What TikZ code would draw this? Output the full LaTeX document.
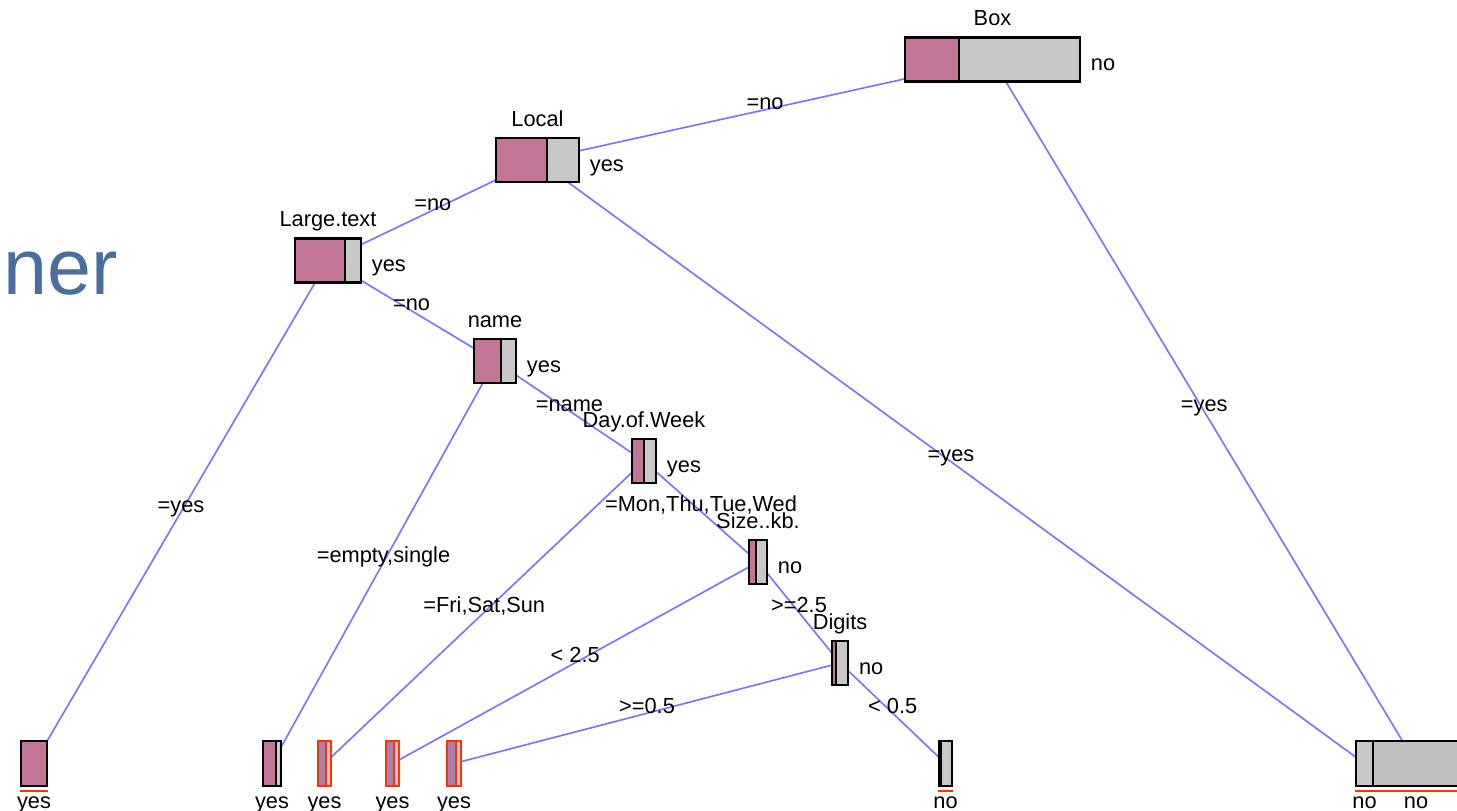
\documentclass[tikz,border=0pt]{standalone}
\usepackage{fontspec}
\setmainfont{Liberation Sans}
\usetikzlibrary{backgrounds}

\definecolor{splitpink}{RGB}{194,117,150}
\definecolor{splitgray}{RGB}{200,200,200}
\definecolor{leafgray}{RGB}{192,192,192}
\definecolor{edgeblue}{RGB}{119,119,255}
\definecolor{leafred}{RGB}{255,51,0}
\definecolor{redpink}{RGB}{168,128,176}
\definecolor{redgray}{RGB}{206,196,214}
\definecolor{slideblue}{RGB}{74,110,158}

\tikzset{
  splitline/.style={draw=black},
  pinkfill/.style={fill=splitpink},
  splitbox/.style={draw=black, line width=1.3pt, fill=splitgray,
    minimum height=0.88cm,
    path picture={
      \fill[pinkfill] (path picture bounding box.north west)
        rectangle ([xshift=#1]path picture bounding box.south west);
      \draw[splitline, line width=1.2pt]
        ([xshift=#1]path picture bounding box.north west)
        -- ([xshift=#1]path picture bounding box.south west);}},
  leafbox/.style={splitbox=#1, minimum height=0.9cm},
  redleaf/.style={leafbox=#1, draw=leafred, line width=1.6pt, fill=redgray,
    pinkfill/.style={fill=redpink}, splitline/.style={draw=leafred}},
  toplab/.style={anchor=base, yshift=0.21cm},
  sidelab/.style={anchor=base west, xshift=0.19cm, yshift=-0.23cm},
  leaflab/.style={anchor=base, yshift=-0.42cm},
  edge/.style={draw=edgeblue, line width=0.95pt},
  elab/.style={midway, anchor=base},
  underline/.style={draw=leafred, line width=1.2pt}
}

\begin{document}
\begin{tikzpicture}[x=0.02cm, y=-0.02cm,
    every node/.style={font=\fontsize{12.4}{14}\selectfont, inner sep=0pt}]
  \useasboundingbox (0,0) rectangle (1457,811);

  \node[anchor=base west, text=slideblue, font=\fontsize{45}{50}\selectfont]
    (slidetitle) at (3,294) {ner};

  % split nodes
  \node[splitbox=1.08cm, minimum width=3.5cm] (box) at (992.5,59.5) {};
  \node[splitbox=1.02cm, minimum width=1.66cm] (local) at (537.5,160) {};
  \node[splitbox=1cm, minimum width=1.32cm] (largetext) at (328,260.5) {};
  \node[splitbox=0.54cm, minimum width=0.84cm] (name) at (495,361) {};
  \node[splitbox=0.24cm, minimum width=0.48cm] (day) at (644,461) {};
  \node[splitbox=0.14cm, minimum width=0.36cm] (size) at (758,562) {};
  \node[splitbox=0.08cm, minimum width=0.32cm] (digits) at (840,663) {};

  \node[toplab] (boxvar) at (box.north) {Box};
  \node[toplab] (localvar) at (local.north) {Local};
  \node[toplab] (largetextvar) at (largetext.north) {Large.text};
  \node[toplab] (namevar) at (name.north) {name};
  \node[toplab] (dayvar) at (day.north) {Day.of.Week};
  \node[toplab] (sizevar) at (size.north) {Size..kb.};
  \node[toplab] (digitsvar) at (digits.north) {Digits};

  \node[sidelab] (boxclass) at (box.east) {no};
  \node[sidelab] (localclass) at (local.east) {yes};
  \node[sidelab] (largetextclass) at (largetext.east) {yes};
  \node[sidelab] (nameclass) at (name.east) {yes};
  \node[sidelab] (dayclass) at (day.east) {yes};
  \node[sidelab] (sizeclass) at (size.east) {no};
  \node[sidelab] (digitsclass) at (digits.east) {no};

  % leaves
  \node[leafbox=0.52cm, minimum width=0.52cm] (leafa) at (34,763.5) {};
  \node[leafbox=0.26cm, minimum width=0.36cm] (leafb) at (272,763.5) {};
  \node[redleaf=0.16cm, minimum width=0.26cm] (leafc) at (324.5,763.5) {};
  \node[redleaf=0.16cm, minimum width=0.26cm] (leafd) at (392.5,763.5) {};
  \node[redleaf=0.18cm, minimum width=0.28cm] (leafe) at (454,763.5) {};
  \node[leafbox=0.04cm, minimum width=0.26cm] (leaff) at (945.5,763.5) {};
  \node[leafbox=0cm, minimum width=0.34cm] (leafg) at (1364.5,763.5) {};
  \node[leafbox=0cm, minimum width=1.72cm, fill=leafgray] (leafh) at (1416,763.5) {};

  \node[leaflab] (leafaclass) at (leafa.south) {yes};
  \node[leaflab] (leafbclass) at (leafb.south) {yes};
  \node[leaflab] (leafcclass) at (leafc.south) {yes};
  \node[leaflab] (leafdclass) at (leafd.south) {yes};
  \node[leaflab] (leafeclass) at (leafe.south) {yes};
  \node[leaflab] (leaffclass) at (leaff.south) {no};
  \node[leaflab] (leafgclass) at (leafg.south) {no};
  \node[leaflab] (leafhclass) at (leafh.south) {no};

  \draw[underline] ([yshift=-0.08cm]leafa.south west) -- ([yshift=-0.08cm]leafa.south east);
  \draw[underline] ([yshift=-0.08cm]leaff.south west) -- ([yshift=-0.08cm]leaff.south east);
  \draw[underline] ([yshift=-0.08cm]leafg.south west) -- ([yshift=-0.08cm]leafh.south east);

  \begin{scope}[on background layer]
    \draw[edge] (box.center) -- (local.center) node[elab] (e1) {=no};
    \draw[edge] (box.center) -- (leafh.center) node[elab] (e2) {=yes};
    \draw[edge] (local.center) -- (largetext.center) node[elab] (e3) {=no};
    \draw[edge] (local.center) -- (leafg.center) node[elab] (e4) {=yes};
    \draw[edge] (largetext.center) -- (leafa.center) node[elab] (e5) {=yes};
    \draw[edge] (largetext.center) -- (name.center) node[elab] (e6) {=no};
    \draw[edge] (name.center) -- (leafb.center) node[elab] (e7) {=empty,single};
    \draw[edge] (name.center) -- (day.center) node[elab] (e8) {=name};
    \draw[edge] (day.center) -- (leafc.center) node[elab] (e9) {=Fri,Sat,Sun};
    \draw[edge] (day.center) -- (size.center) node[elab] (e10) {=Mon,Thu,Tue,Wed};
    \draw[edge] (size.center) -- (leafd.center) node[elab] (e11) {< 2.5};
    \draw[edge] (size.center) -- (digits.center) node[elab] (e12) {>=2.5};
    \draw[edge] (digits.center) -- (leafe.center) node[elab] (e13) {>=0.5};
    \draw[edge] (digits.center) -- (leaff.center) node[elab] (e14) {< 0.5};
  \end{scope}
\end{tikzpicture}
\end{document}
